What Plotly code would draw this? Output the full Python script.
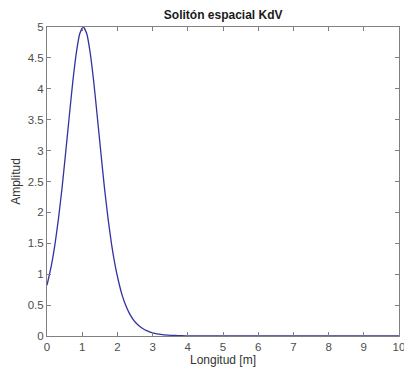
import plotly.graph_objects as go

# Data
longitud = [0, 0.13, 0.23, 0.33, 0.43, 0.53, 0.63, 0.73, 0.83, 0.93, 1.03,
            1.13, 1.23, 1.33, 1.43, 1.53, 1.63, 1.73, 1.83, 1.93, 2.03,
            2.13, 2.23, 2.33, 2.43, 2.53, 2.63, 2.73, 2.83, 2.93, 3.03,
            3.23, 3.43, 3.63, 3.83, 4.03, 4.5, 5, 6, 7, 8, 9, 10]
amplitud = [0.82, 1.16, 1.50, 1.92, 2.41, 2.97, 3.54, 4.10, 4.57, 4.89, 5.0,
            4.89, 4.57, 4.10, 3.54, 2.97, 2.41, 1.92, 1.50, 1.16, 0.89,
            0.67, 0.505, 0.379, 0.283, 0.211, 0.157, 0.117, 0.087, 0.064, 0.047,
            0.026, 0.014, 0.008, 0.004, 0.002, 0.0005, 0.0001, 0, 0, 0, 0, 0]
x_ticks = [0, 1, 2, 3, 4, 5, 6, 7, 8, 9, 10]
y_ticks = [0, 0.5, 1, 1.5, 2, 2.5, 3, 3.5, 4, 4.5, 5]
y_labels = ["0", "0.5", "1", "1.5", "2", "2.5", "3", "3.5", "4", "4.5", "5"]

FONT = "Liberation Sans, Arial, sans-serif"

fig = go.Figure()
fig.add_trace(go.Scatter(
    x=longitud, y=amplitud, mode="lines",
    line=dict(color="rgb(50,50,160)", width=1.3, shape="spline", smoothing=0.6),
    showlegend=False, hoverinfo="skip"))

axis_common = dict(
    showgrid=False, zeroline=False, showline=True, linecolor="#808080",
    linewidth=1, mirror="ticks", ticks="inside", ticklen=4, tickcolor="#808080",
    ticklabeloverflow="allow", automargin=False,
    tickfont=dict(family=FONT, size=11.5, color="#4d4d4d"),
)

fig.update_layout(
    width=404, height=378,
    margin=dict(l=47, r=5, t=27, b=42, autoexpand=False),
    paper_bgcolor="white", plot_bgcolor="white",
    title=dict(text="<b>Solitón espacial KdV</b>", x=0.5525, xanchor="center",
               y=0.962, yanchor="middle",
               font=dict(family=FONT, size=12, color="#1a1a1a")),
    xaxis=dict(range=[0, 10], tickvals=x_ticks,
               title=dict(text="Longitud [m]", standoff=3,
                          font=dict(family=FONT, size=12, color="#333333")),
               **axis_common),
    yaxis=dict(range=[0, 5], tickvals=y_ticks, ticktext=y_labels,
               title=dict(text="Amplitud", standoff=4,
                          font=dict(family=FONT, size=12, color="#333333")),
               **axis_common),
)

fig.write_html("out.html")
